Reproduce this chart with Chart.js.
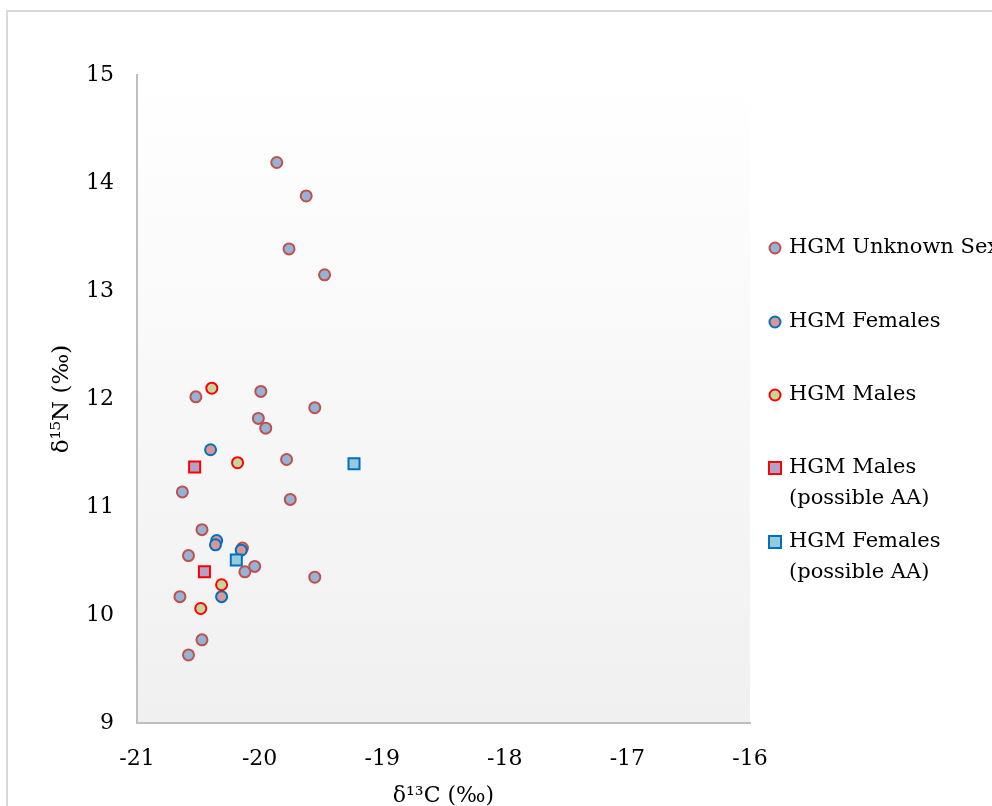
<!DOCTYPE html>
<html>
<head>
<meta charset="utf-8">
<script src="https://cdn.jsdelivr.net/npm/chart.js@4"></script>
<style>
  html, body { margin: 0; padding: 0; background: #fff; overflow: hidden; }
  #frame { position: absolute; left: 6px; top: 10px; width: 1100px; height: 900px; border: 2px solid #d9d9d9; box-sizing: border-box; }
  #wrap { position: absolute; left: 0; top: 0; width: 992px; height: 806px; }
</style>
</head>
<body>
<div id="frame"></div>
<div id="wrap"><canvas id="chart" width="992" height="806"></canvas></div>
<script>
// d13C (x) and d15N (y) values
const unknownX = [-19.86, -19.62, -19.76, -19.47, -20.52, -19.99, -19.55, -20.01, -19.95, -19.78, -20.63, -19.75, -20.47, -20.58, -20.14, -20.12, -20.04, -19.55, -20.65, -20.47, -20.58];
const unknownY = [14.19, 13.88, 13.39, 13.15, 12.02, 12.07, 11.92, 11.82, 11.73, 11.44, 11.14, 11.07, 10.79, 10.55, 10.62, 10.40, 10.45, 10.35, 10.17, 9.77, 9.63];

const femalesX = [-20.40, -20.35, -20.36, -20.15, -20.31];
const femalesY = [11.53, 10.69, 10.65, 10.60, 10.17];

const malesX = [-20.39, -20.18, -20.31, -20.48];
const malesY = [12.10, 11.41, 10.28, 10.06];

const malesAAX = [-20.53, -20.45];
const malesAAY = [11.37, 10.40];

const femalesAAX = [-19.23, -20.19];
const femalesAAY = [11.40, 10.51];

const seriesNames = [
  ['HGM Unknown Sex'],
  ['HGM Females'],
  ['HGM Males'],
  ['HGM Males', '(possible AA)'],
  ['HGM Females', '(possible AA)']
];

const xTicks = [-21, -20, -19, -18, -17, -16];
const yTicks = [9, 10, 11, 12, 13, 14, 15];

const FONT = '"DejaVu Serif", serif';

function pts(xs, ys) {
  return xs.map((x, i) => ({ x: x, y: ys[i] }));
}

const series = [
  { x: unknownX, y: unknownY, fill: '#95b3d7', border: '#c0504d', style: 'circle', r: 5.5 },
  { x: femalesX, y: femalesY, fill: '#d99694', border: '#0070c0', style: 'circle', r: 5.5 },
  { x: malesX, y: malesY, fill: '#c3d69b', border: '#ff0000', style: 'circle', r: 5.5 },
  { x: malesAAX, y: malesAAY, fill: '#b3a2c7', border: '#ff0000', style: 'rect', r: 7.8 },
  { x: femalesAAX, y: femalesAAY, fill: '#93cddd', border: '#0070c0', style: 'rect', r: 7.8 }
];

const datasets = series.map((s, i) => ({
  label: seriesNames[i].join(' '),
  data: pts(s.x, s.y),
  pointStyle: s.style,
  pointRadius: s.r,
  pointHoverRadius: s.r,
  pointBorderWidth: 2,
  backgroundColor: s.fill,
  borderColor: s.border,
  order: series.length - i
}));

// plot area gradient
const plotBg = {
  id: 'plotBg',
  beforeDraw(chart) {
    const { ctx, chartArea: a } = chart;
    const g = ctx.createLinearGradient(0, a.top, 0, a.bottom);
    g.addColorStop(0, '#ffffff');
    g.addColorStop(1, '#f0f0f0');
    ctx.save();
    ctx.fillStyle = g;
    ctx.fillRect(a.left, a.top, a.right - a.left, a.bottom - a.top);
    ctx.restore();
  }
};

// legend on the right, one row per series
const sideLegend = {
  id: 'sideLegend',
  afterDraw(chart) {
    const ctx = chart.ctx;
    const rowY = [248, 322, 395, 468, 542];
    ctx.save();
    ctx.font = '21px ' + FONT;
    ctx.textBaseline = 'middle';
    chart.data.datasets.forEach((ds, i) => {
      ctx.fillStyle = ds.backgroundColor;
      ctx.strokeStyle = ds.borderColor;
      ctx.lineWidth = 2;
      Chart.helpers.drawPoint(ctx, { pointStyle: ds.pointStyle, radius: ds.pointStyle === 'rect' ? 8.5 : 5.5, borderWidth: 2, rotation: 0 }, 775, rowY[i]);
      ctx.fillStyle = '#000';
      seriesNames[i].forEach((line, j) => ctx.fillText(line, 789, rowY[i] + j * 31));
    });
    ctx.restore();
  }
};

new Chart(document.getElementById('chart'), {
  type: 'scatter',
  data: { datasets: datasets },
  plugins: [plotBg, sideLegend],
  options: {
    responsive: false,
    animation: false,
    layout: { padding: { left: 0, top: 75, right: 242, bottom: 0 } },
    plugins: { legend: { display: false }, tooltip: { enabled: false } },
    scales: {
      x: {
        type: 'linear',
        min: -21,
        max: -16,
        afterBuildTicks: (scale) => { scale.ticks = xTicks.map(v => ({ value: v })); },
        afterFit: (scale) => { scale.height = 83; },
        grid: { display: true, drawOnChartArea: false, drawTicks: false, color: 'rgba(0,0,0,0)' },
        border: { display: true, color: '#bfbfbf', width: 2 },
        ticks: { color: '#000', padding: 23, font: { family: FONT, size: 22 } },
        title: { display: true, text: 'δ¹³C (‰)', color: '#000', padding: { top: 0, bottom: -3 }, font: { family: FONT, size: 22 } }
      },
      y: {
        type: 'linear',
        min: 9,
        max: 15,
        afterBuildTicks: (scale) => { scale.ticks = yTicks.map(v => ({ value: v })); },
        afterFit: (scale) => { scale.width = 137; },
        grid: { display: true, drawOnChartArea: false, drawTicks: false, color: 'rgba(0,0,0,0)' },
        border: { display: true, color: '#bfbfbf', width: 2 },
        ticks: { color: '#000', padding: 23, font: { family: FONT, size: 22 } },
        title: { display: true, text: 'δ¹⁵N (‰)', color: '#000', padding: { top: 48, bottom: 0 }, font: { family: FONT, size: 23 } }
      }
    }
  }
});
</script>
</body>
</html>
